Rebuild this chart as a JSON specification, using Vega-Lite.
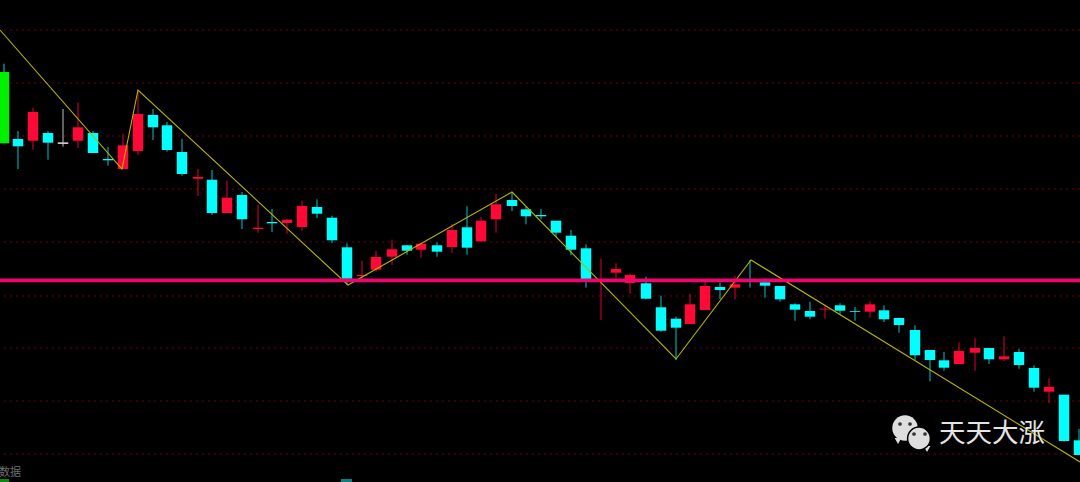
{"$schema":"https://vega.github.io/schema/vega-lite/v6.json","width":1080,"height":482,"autosize":{"type":"none"},"padding":0,"background":"#000000","config":{"view":{"stroke":null}},
"datasets":{"candles":[
{"x":4,"high":63.7,"low":143.3,"top":72,"bot":143.3,"kind":"big"},
{"x":18,"high":131,"low":169,"top":139,"bot":146.3,"kind":"down"},
{"x":33,"high":108,"low":149.7,"top":112,"bot":140.7,"kind":"up"},
{"x":48,"high":131,"low":159.7,"top":133,"bot":142.7,"kind":"down"},
{"x":63,"high":109,"low":146.7,"top":142.3,"bot":144,"kind":"flat"},
{"x":78,"high":102.7,"low":148,"top":127.3,"bot":140.7,"kind":"up"},
{"x":93,"high":131,"low":153,"top":133,"bot":153,"kind":"down"},
{"x":108,"high":147,"low":165.7,"top":159,"bot":160.3,"kind":"down"},
{"x":123,"high":134,"low":169,"top":145.3,"bot":169,"kind":"up"},
{"x":138,"high":90,"low":155,"top":114,"bot":151,"kind":"up"},
{"x":153,"high":109,"low":140,"top":115,"bot":127.3,"kind":"down"},
{"x":167,"high":122,"low":151.7,"top":125.3,"bot":150,"kind":"down"},
{"x":182,"high":139,"low":175.7,"top":152,"bot":174,"kind":"down"},
{"x":198,"high":169,"low":196,"top":177,"bot":178.7,"kind":"up"},
{"x":212,"high":170,"low":215,"top":179.7,"bot":213,"kind":"down"},
{"x":227,"high":180.7,"low":213,"top":197.7,"bot":213,"kind":"up"},
{"x":242,"high":192,"low":229,"top":195,"bot":219.3,"kind":"down"},
{"x":258,"high":205,"low":232.7,"top":227.7,"bot":229,"kind":"up"},
{"x":272,"high":209,"low":232,"top":222,"bot":223.3,"kind":"down"},
{"x":287,"high":219,"low":233.7,"top":219.7,"bot":223,"kind":"up"},
{"x":302,"high":200.7,"low":231,"top":206,"bot":227,"kind":"up"},
{"x":317,"high":199.3,"low":218,"top":207,"bot":213.7,"kind":"down"},
{"x":332,"high":215.7,"low":243,"top":217.7,"bot":240.3,"kind":"down"},
{"x":347,"high":243.3,"low":285,"top":247.3,"bot":278.7,"kind":"down"},
{"x":362,"high":261,"low":280,"top":275,"bot":276,"kind":"up"},
{"x":376,"high":251,"low":271.7,"top":257,"bot":269.7,"kind":"up"},
{"x":392,"high":239.7,"low":265,"top":249.3,"bot":256.7,"kind":"up"},
{"x":407,"high":245,"low":254.7,"top":245.3,"bot":250.7,"kind":"down"},
{"x":421,"high":243.3,"low":257.7,"top":243.7,"bot":249.7,"kind":"up"},
{"x":437,"high":242.3,"low":256.7,"top":245.3,"bot":251.7,"kind":"down"},
{"x":452,"high":224,"low":252.7,"top":230,"bot":247,"kind":"up"},
{"x":467,"high":206.3,"low":254.7,"top":227.3,"bot":247.7,"kind":"down"},
{"x":481,"high":217,"low":241.7,"top":220.7,"bot":241.3,"kind":"up"},
{"x":496,"high":194,"low":232.7,"top":204.3,"bot":219.3,"kind":"up"},
{"x":512,"high":192,"low":211,"top":200,"bot":206,"kind":"down"},
{"x":526,"high":206.7,"low":224.3,"top":209.3,"bot":216.3,"kind":"down"},
{"x":541,"high":209,"low":219.3,"top":215,"bot":216.3,"kind":"down"},
{"x":556,"high":220.7,"low":237,"top":220.7,"bot":232.7,"kind":"down"},
{"x":571,"high":230,"low":255.3,"top":235.7,"bot":249.7,"kind":"down"},
{"x":586,"high":244.3,"low":287.7,"top":248.3,"bot":279.3,"kind":"down"},
{"x":601,"high":258.7,"low":320,"top":280,"bot":281,"kind":"up"},
{"x":616,"high":263.3,"low":280,"top":269,"bot":272.7,"kind":"up"},
{"x":630,"high":273.3,"low":293.7,"top":275,"bot":283,"kind":"up"},
{"x":646,"high":276.7,"low":299.3,"top":283.3,"bot":298.7,"kind":"down"},
{"x":661,"high":295.7,"low":331.7,"top":307.3,"bot":330.7,"kind":"down"},
{"x":676,"high":316.7,"low":360,"top":318.7,"bot":327.7,"kind":"down"},
{"x":690,"high":294,"low":324,"top":304.3,"bot":324,"kind":"up"},
{"x":705,"high":281.7,"low":310,"top":286,"bot":310,"kind":"up"},
{"x":720,"high":282.3,"low":299,"top":287,"bot":290,"kind":"down"},
{"x":735,"high":276,"low":299.3,"top":284.3,"bot":287.7,"kind":"up"},
{"x":750,"high":260,"low":287.7,"top":280.5,"bot":281.5,"kind":"down"},
{"x":765,"high":278.3,"low":297.7,"top":282.3,"bot":285.7,"kind":"down"},
{"x":780,"high":286,"low":301.7,"top":286,"bot":299.3,"kind":"down"},
{"x":795,"high":303.3,"low":320.7,"top":304.3,"bot":309.7,"kind":"down"},
{"x":810,"high":301.7,"low":319.3,"top":311,"bot":316.7,"kind":"down"},
{"x":825,"high":305,"low":318.7,"top":308.7,"bot":309.5,"kind":"up"},
{"x":840,"high":303.3,"low":315,"top":305.3,"bot":310.7,"kind":"down"},
{"x":855,"high":307,"low":320.7,"top":311,"bot":311.8,"kind":"down"},
{"x":870,"high":301.3,"low":317.7,"top":304.3,"bot":311.7,"kind":"up"},
{"x":884,"high":305.3,"low":322,"top":310.3,"bot":319.3,"kind":"down"},
{"x":899,"high":317.7,"low":332.7,"top":318,"bot":325,"kind":"down"},
{"x":915,"high":325.3,"low":360,"top":330,"bot":355.3,"kind":"down"},
{"x":930,"high":350,"low":381.3,"top":350,"bot":360,"kind":"down"},
{"x":944,"high":352,"low":370.7,"top":360.3,"bot":367.7,"kind":"down"},
{"x":959,"high":342.3,"low":364,"top":351,"bot":364,"kind":"up"},
{"x":975,"high":337.7,"low":370.7,"top":348,"bot":352.7,"kind":"up"},
{"x":989,"high":348,"low":364,"top":348,"bot":359.3,"kind":"down"},
{"x":1004,"high":336.3,"low":361,"top":356.3,"bot":359.3,"kind":"up"},
{"x":1019,"high":349,"low":368.7,"top":352,"bot":365,"kind":"down"},
{"x":1034,"high":365.3,"low":391.7,"top":368,"bot":387.7,"kind":"down"},
{"x":1049,"high":378.3,"low":403,"top":387,"bot":391.7,"kind":"up"},
{"x":1064,"high":394.7,"low":441.5,"top":394.7,"bot":441,"kind":"down"},
{"x":1079,"high":429,"low":455,"top":440.3,"bot":455,"kind":"down"}],
"zigzag":[{"x":0,"y":30},{"x":122,"y":169},{"x":138,"y":90},{"x":348,"y":285},{"x":512,"y":192},{"x":676,"y":359},{"x":751,"y":260},{"x":1080,"y":462}],
"grid":[{"y":30},{"y":83},{"y":136},{"y":189},{"y":242},{"y":296},{"y":348},{"y":401},{"y":454}]},
"encoding":{},
"layer":[
{"data":{"name":"grid"},"mark":{"type":"rule","color":"#6a0000","strokeWidth":1,"strokeDash":[2,4]},"encoding":{"y":{"field":"y","type":"quantitative","scale":{"domain":[482,0],"nice":false,"zero":false},"axis":null}}},
{"data":{"name":"candles"},"mark":{"type":"rule","strokeWidth":1,"clip":true},"encoding":{"x":{"field":"x","type":"quantitative","scale":{"domain":[0,1080],"nice":false,"zero":false,"padding":0},"axis":null},"y":{"field":"high","type":"quantitative","scale":{"domain":[482,0],"nice":false,"zero":false},"axis":null},"y2":{"field":"low"},"color":{"field":"kind","type":"nominal","scale":{"domain":["up","down","flat","big"],"range":["#e0002e","#00c4c4","#c0c0c0","#00d0d0"]},"legend":null}}},
{"data":{"name":"candles"},"mark":{"type":"bar","size":10.5,"orient":"vertical","clip":true},"encoding":{"x":{"field":"x","type":"quantitative","scale":{"domain":[0,1080],"nice":false,"zero":false,"padding":0},"axis":null},"y":{"field":"top","type":"quantitative","scale":{"domain":[482,0],"nice":false,"zero":false},"axis":null},"y2":{"field":"bot"},"color":{"field":"kind","type":"nominal","scale":{"domain":["up","down","flat","big"],"range":["#ff0a37","#00ffff","#c8c8c8","#00f000"]},"legend":null}}},
{"data":{"name":"zigzag"},"mark":{"type":"line","color":"#b4b400","strokeWidth":1.1,"clip":true},"encoding":{"x":{"field":"x","type":"quantitative","scale":{"domain":[0,1080],"nice":false,"zero":false,"padding":0},"axis":null},"y":{"field":"y","type":"quantitative","scale":{"domain":[482,0],"nice":false,"zero":false},"axis":null}}},
{"data":{"values":[{"y":280.4}]},"mark":{"type":"rule","color":"#f0056e","strokeWidth":3.6},"encoding":{"y":{"field":"y","type":"quantitative","scale":{"domain":[482,0],"nice":false,"zero":false},"axis":null}}},
{"data":{"values":[{"x":905,"y":428,"part":"big"}]},"mark":{"type":"point","filled":true,"opacity":1,"size":650,"shape":"circle","color":"#dedede"},"encoding":{"x":{"field":"x","type":"quantitative","scale":{"domain":[0,1080],"nice":false,"zero":false,"padding":0},"axis":null},"y":{"field":"y","type":"quantitative","scale":{"domain":[482,0],"nice":false,"zero":false},"axis":null}}},
{"data":{"values":[{"x":898,"y":441},{"x":927,"y":449}]},"mark":{"type":"point","filled":true,"opacity":1,"size":45,"shape":"triangle-down","color":"#dedede"},"encoding":{"x":{"field":"x","type":"quantitative","scale":{"domain":[0,1080],"nice":false,"zero":false,"padding":0},"axis":null},"y":{"field":"y","type":"quantitative","scale":{"domain":[482,0],"nice":false,"zero":false},"axis":null}}},
{"data":{"values":[{"x":919,"y":438.5}]},"mark":{"type":"point","filled":true,"opacity":1,"size":520,"shape":"circle","color":"#dedede","stroke":"#000000","strokeWidth":1.5},"encoding":{"x":{"field":"x","type":"quantitative","scale":{"domain":[0,1080],"nice":false,"zero":false,"padding":0},"axis":null},"y":{"field":"y","type":"quantitative","scale":{"domain":[482,0],"nice":false,"zero":false},"axis":null}}},
{"data":{"values":[{"x":900,"y":424},{"x":910,"y":424},{"x":914,"y":434},{"x":925,"y":434}]},"mark":{"type":"point","filled":true,"opacity":1,"size":14,"shape":"circle","color":"#333333"},"encoding":{"x":{"field":"x","type":"quantitative","scale":{"domain":[0,1080],"nice":false,"zero":false,"padding":0},"axis":null},"y":{"field":"y","type":"quantitative","scale":{"domain":[482,0],"nice":false,"zero":false},"axis":null}}},
{"data":{"values":[{"x":939,"y":434,"t":"天天大涨"}]},"mark":{"type":"text","align":"left","baseline":"middle","font":"Noto Sans CJK SC","fontSize":26.5,"color":"#e4e4e4"},"encoding":{"x":{"field":"x","type":"quantitative","scale":{"domain":[0,1080],"nice":false,"zero":false,"padding":0},"axis":null},"y":{"field":"y","type":"quantitative","scale":{"domain":[482,0],"nice":false,"zero":false},"axis":null},"text":{"field":"t"}}},
{"data":{"values":[{"x":-1,"y":473,"t":"数据"}]},"mark":{"type":"text","align":"left","baseline":"middle","font":"Noto Sans CJK SC","fontSize":11,"color":"#6e6e6e"},"encoding":{"x":{"field":"x","type":"quantitative","scale":{"domain":[0,1080],"nice":false,"zero":false,"padding":0},"axis":null},"y":{"field":"y","type":"quantitative","scale":{"domain":[482,0],"nice":false,"zero":false},"axis":null},"text":{"field":"t"}}},
{"data":{"values":[{"x0":0,"x1":9,"y0":479,"y1":482,"k":"a"},{"x0":341,"x1":352,"y0":479,"y1":482,"k":"b"}]},"mark":{"type":"rect","clip":true},"encoding":{"x":{"field":"x0","type":"quantitative","scale":{"domain":[0,1080],"nice":false,"zero":false,"padding":0},"axis":null},"x2":{"field":"x1"},"y":{"field":"y0","type":"quantitative","scale":{"domain":[482,0],"nice":false,"zero":false},"axis":null},"y2":{"field":"y1"},"color":{"field":"k","type":"nominal","scale":{"domain":["a","b"],"range":["#0a8a0a","#0a7f7f"]},"legend":null}}}
],
"resolve":{"scale":{"color":"independent"}}}
